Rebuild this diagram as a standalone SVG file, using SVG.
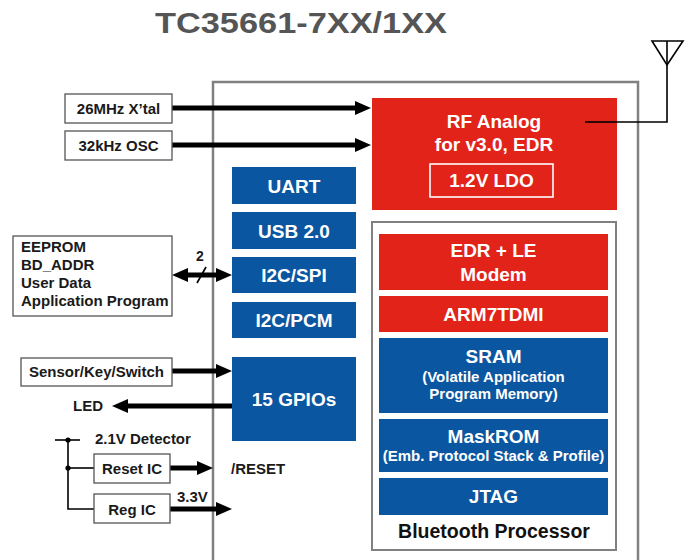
<svg xmlns="http://www.w3.org/2000/svg" width="692" height="560" viewBox="0 0 692 560">
<style>
text{font-family:"Liberation Sans",Arial,sans-serif;font-weight:bold}
.lbl{font-size:15px;fill:#1a1a1a}
.w{fill:#fff;font-size:19px;text-anchor:middle}
.ws{fill:#fff;font-size:15px;text-anchor:middle}
.box{fill:#fff;stroke:#555;stroke-width:1.3}
.red{fill:#E2231A}
.blue{fill:#0B56A0}
.arr{stroke:#000;stroke-width:5;fill:none;marker-end:url(#ah)}
.thin{stroke:#000;stroke-width:1.6;fill:none}
</style>
<defs>
<marker id="ah" markerUnits="userSpaceOnUse" markerWidth="16" markerHeight="14" refX="6" refY="7" orient="auto-start-reverse">
<path d="M0,0 L16,7 L0,14 z" fill="#000"/>
</marker>
</defs>

<text id="title" x="155" y="33" font-size="29" fill="#555" textLength="292" lengthAdjust="spacingAndGlyphs">TC35661-7XX/1XX</text>

<g id="chip">
<path d="M213,560 V82 H638 V560" fill="none" stroke="#808080" stroke-width="2.5"/>
</g>

<g id="connectors">
<line class="arr" x1="172" y1="108" x2="361" y2="108"/>
<line class="arr" x1="172" y1="145" x2="361" y2="145"/>
<line class="arr" x1="182" y1="275" x2="222" y2="275" style="marker-start:url(#ah)"/>
<line class="thin" x1="197" y1="283" x2="206" y2="267"/>
<text x="200" y="261" font-size="14" text-anchor="middle" fill="#1a1a1a">2</text>
<line class="arr" x1="172" y1="371" x2="222" y2="371"/>
<line class="arr" x1="232" y1="406" x2="122" y2="406"/>
<line class="arr" x1="170" y1="468" x2="203" y2="468"/>
<line class="arr" x1="170" y1="509" x2="222" y2="509"/>
<polyline class="thin" points="585,122 667,122 667,41"/>
<path class="thin" d="M652,41 H683 L667,65 Z"/>
<line class="thin" x1="55" y1="440" x2="80" y2="440" stroke-width="1.3"/>
<polyline class="thin" points="68,440 68,509 94,509" stroke-width="1.3"/>
<line class="thin" x1="68" y1="468" x2="94" y2="468" stroke-width="1.3"/>
<circle cx="68" cy="440" r="2.6" fill="#000"/>
<circle cx="68" cy="468" r="2.6" fill="#000"/>
</g>

<g id="xtal"><rect class="box" x="65" y="94" width="107" height="29"/><text class="lbl" x="118.5" y="114" text-anchor="middle">26MHz X’tal</text></g>
<g id="osc"><rect class="box" x="65" y="131" width="107" height="29"/><text class="lbl" x="118.5" y="151" text-anchor="middle">32kHz OSC</text></g>

<g id="rf">
<rect class="red" x="372" y="98" width="245" height="112"/>
<text class="w" x="494" y="128">RF Analog</text>
<text class="w" x="494" y="151">for v3.0, EDR</text>
<rect x="430" y="164" width="123" height="33" fill="none" stroke="#fff" stroke-width="1.6"/>
<text class="w" x="491.5" y="187">1.2V LDO</text>
</g>
<line x1="585" y1="122" x2="617" y2="122" stroke="#000" stroke-width="1.6"/>

<g id="uart"><rect class="blue" x="232" y="167" width="124" height="37"/><text class="w" x="294" y="193">UART</text></g>
<g id="usb"><rect class="blue" x="232" y="212" width="124" height="37"/><text class="w" x="294" y="238">USB 2.0</text></g>
<g id="i2cspi"><rect class="blue" x="232" y="257" width="124" height="36"/><text class="w" x="294" y="282">I2C/SPI</text></g>
<g id="i2cpcm"><rect class="blue" x="232" y="302" width="124" height="36"/><text class="w" x="294" y="327">I2C/PCM</text></g>
<g id="gpio"><rect class="blue" x="232" y="357" width="124" height="84"/><text class="w" x="294" y="406">15 GPIOs</text></g>

<g id="eeprom">
<rect class="box" x="13" y="236" width="159" height="80"/>
<text class="lbl" x="21" y="252">EEPROM</text>
<text class="lbl" x="21" y="270">BD_ADDR</text>
<text class="lbl" x="21" y="288">User Data</text>
<text class="lbl" x="21" y="306">Application Program</text>
</g>

<g id="sensor"><rect class="box" x="21" y="358" width="151" height="28"/><text class="lbl" x="96.5" y="377" text-anchor="middle">Sensor/Key/Switch</text></g>
<g id="led"><text class="lbl" x="73" y="411">LED</text></g>
<g id="detector"><text class="lbl" x="95" y="444">2.1V Detector</text></g>
<g id="reset"><rect class="box" x="94" y="454" width="76" height="29"/><text class="lbl" x="132" y="474" text-anchor="middle">Reset IC</text></g>
<g id="resetlbl"><text class="lbl" x="231" y="474">/RESET</text></g>
<g id="reg"><rect class="box" x="94" y="494" width="76" height="29"/><text class="lbl" x="132" y="515" text-anchor="middle">Reg IC</text></g>
<g id="v33"><text class="lbl" x="177" y="502" font-size="14">3.3V</text></g>

<g id="bt">
<rect x="372" y="222" width="244" height="328" fill="#fff" stroke="#808080" stroke-width="2"/>
<text x="494" y="538" font-size="19.5" text-anchor="middle" fill="#111">Bluetooth Processor</text>
</g>
<g id="modem"><rect class="red" x="379" y="234" width="229" height="56"/><text class="w" x="493.5" y="257">EDR + LE</text><text class="w" x="493.5" y="281">Modem</text></g>
<g id="arm"><rect class="red" x="379" y="296" width="229" height="36"/><text class="w" x="493.5" y="321">ARM7TDMI</text></g>
<g id="sram"><rect class="blue" x="379" y="338" width="229" height="75"/><text class="w" x="493.5" y="363">SRAM</text><text class="ws" x="493.5" y="382">(Volatile Application</text><text class="ws" x="493.5" y="399">Program Memory)</text></g>
<g id="maskrom"><rect class="blue" x="379" y="419" width="229" height="53"/><text class="w" x="493.5" y="443">MaskROM</text><text class="ws" x="493.5" y="461">(Emb. Protocol Stack &amp; Profile)</text></g>
<g id="jtag"><rect class="blue" x="379" y="478" width="229" height="37"/><text class="w" x="493.5" y="503">JTAG</text></g>
</svg>
